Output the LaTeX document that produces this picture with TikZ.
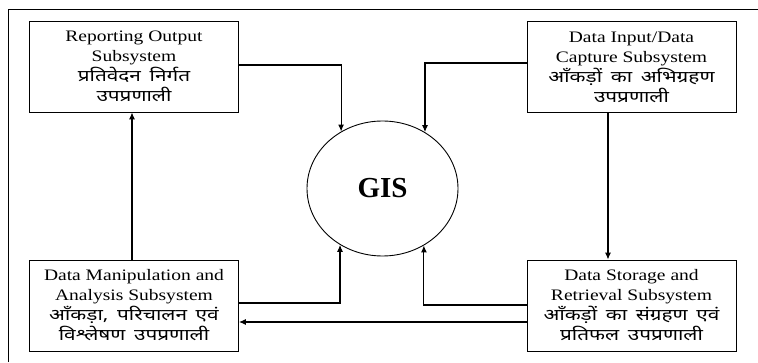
\documentclass[tikz,border=0pt]{standalone}
\usepackage{fontspec}
\usepackage{tikz}
\usetikzlibrary{calc,shapes.geometric,arrows.meta}
\setmainfont{Liberation Serif}
\newfontfamily\engfont[FakeStretch=1.22]{Liberation Serif}
\newfontfamily\hinfont[Script=Devanagari,FakeStretch=1.3,WordSpace=1.6]{Noto Sans}
\newcommand{\hin}[1]{{\hinfont\fontsize{16}{20}\selectfont #1}}
\tikzset{
  subsys/.style={draw, line width=0.9pt, minimum width=209pt, minimum height=91pt,
    inner sep=2pt, align=center, font=\engfont\fontsize{16}{20}\selectfont},
  arr/.style={line width=1.1pt, -{Latex[length=7pt,width=6pt]}}
}
\begin{document}
\begin{tikzpicture}[x=1pt,y=1pt]
		\useasboundingbox (0,0) rectangle (758,362);
		\draw [line width=0.9pt] (8,0) -- (8,353) -- (758,353);% Frame, cut off at right and bottom

		\node[subsys] (rep) at (134,295.5) {Reporting Output\\Subsystem\\
			\hin{प्रतिवेदन निर्गत}\\\hin{उपप्रणाली}};
		\node[subsys] (inp) at (631.5,295) {Data Input/Data\\Capture Subsystem\\
			\hin{आँकड़ों का अभिग्रहण}\\\hin{उपप्रणाली}};
		\node[subsys] (man) at (134,56.5) {Data Manipulation and\\Analysis Subsystem\\
			\hin{आँकड़ा, परिचालन एवं}\\\hin{विश्लेषण उपप्रणाली}};
		\node[subsys] (sto) at (631.5,56.5) {Data Storage and\\Retrieval Subsystem\\
			\hin{आँकड़ों का संग्रहण एवं}\\\hin{प्रतिफल उपप्रणाली}};

		\node[draw, ellipse, line width=0.9pt, minimum width=151pt, minimum height=135pt,
			inner sep=0pt, font=\bfseries\fontsize{29}{32}\selectfont] (gis) at (382.5,173.5) {GIS};

		% Arrows into and out of the centre
		\draw [arr] ([yshift=1.5pt]rep.east) -| (gis.126.4);
		\draw [arr] ([yshift=4pt]inp.west) -| (gis.53.6);
		\draw [arr] ([yshift=2.5pt]man.east) -| (gis.233.6);
		\draw [arr] ([yshift=0.5pt]sto.west) -| (gis.306.4);
		% Arrows between the subsystems
		\draw [arr] ([xshift=-23.5pt]inp.south) -- ([xshift=-23.5pt]sto.north);
		\draw [arr] ([yshift=-16.5pt]sto.west) -- ([yshift=-16.5pt]sto.west -| man.east);
		\draw [arr] ([xshift=-2pt]man.north) -- ([xshift=-2pt]rep.south);
	  \end{tikzpicture}
\end{document}
